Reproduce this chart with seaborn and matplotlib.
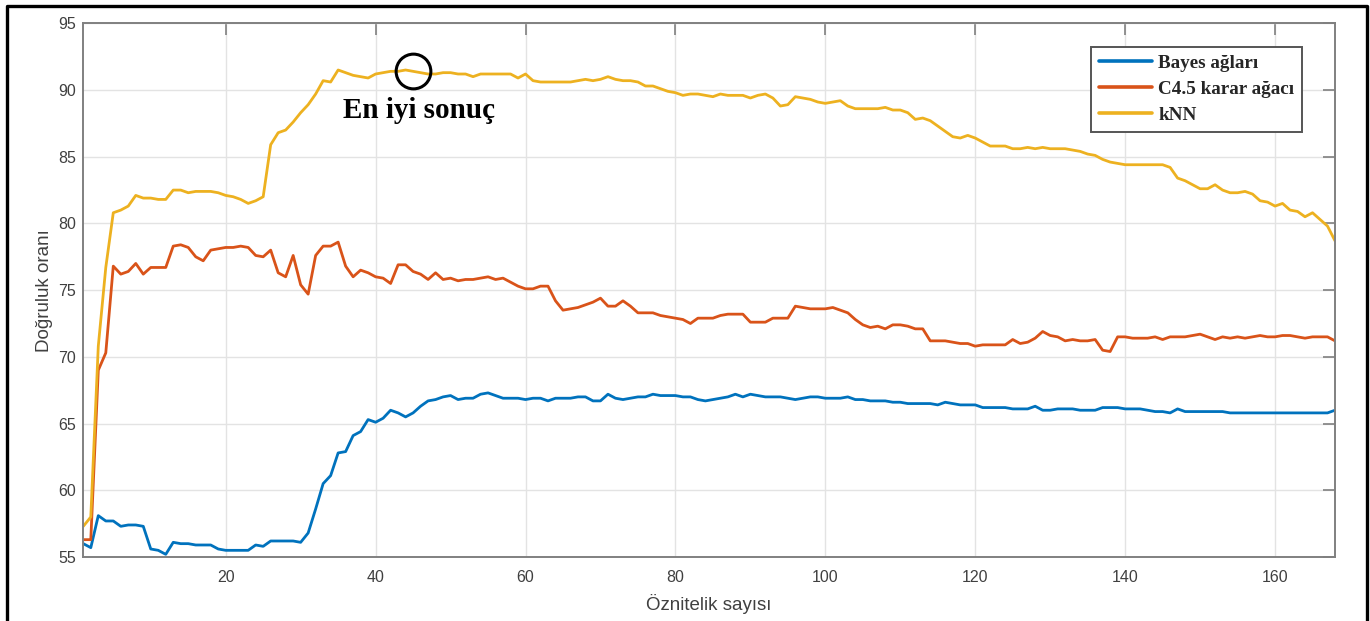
import matplotlib
matplotlib.use('Agg')
import matplotlib.pyplot as plt
from matplotlib.lines import Line2D
import seaborn as sns
import pandas as pd
import numpy as np

# accuracy (%) per number of features
n_features = list(range(1, 169))

bayes = [
    56.0, 55.7, 58.1, 57.7, 57.7, 57.3, 57.4, 57.4, 57.3, 55.6,
    55.5, 55.2, 56.1, 56.0, 56.0, 55.9, 55.9, 55.9, 55.6, 55.5,
    55.5, 55.5, 55.5, 55.9, 55.8, 56.2, 56.2, 56.2, 56.2, 56.1,
    56.8, 58.6, 60.5, 61.1, 62.8, 62.9, 64.1, 64.4, 65.3, 65.1,
    65.4, 66.0, 65.8, 65.5, 65.8, 66.3, 66.7, 66.8, 67.0, 67.1,
    66.8, 66.9, 66.9, 67.2, 67.3, 67.1, 66.9, 66.9, 66.9, 66.8,
    66.9, 66.9, 66.7, 66.9, 66.9, 66.9, 67.0, 67.0, 66.7, 66.7,
    67.2, 66.9, 66.8, 66.9, 67.0, 67.0, 67.2, 67.1, 67.1, 67.1,
    67.0, 67.0, 66.8, 66.7, 66.8, 66.9, 67.0, 67.2, 67.0, 67.2,
    67.1, 67.0, 67.0, 67.0, 66.9, 66.8, 66.9, 67.0, 67.0, 66.9,
    66.9, 66.9, 67.0, 66.8, 66.8, 66.7, 66.7, 66.7, 66.6, 66.6,
    66.5, 66.5, 66.5, 66.5, 66.4, 66.6, 66.5, 66.4, 66.4, 66.4,
    66.2, 66.2, 66.2, 66.2, 66.1, 66.1, 66.1, 66.3, 66.0, 66.0,
    66.1, 66.1, 66.1, 66.0, 66.0, 66.0, 66.2, 66.2, 66.2, 66.1,
    66.1, 66.1, 66.0, 65.9, 65.9, 65.8, 66.1, 65.9, 65.9, 65.9,
    65.9, 65.9, 65.9, 65.8, 65.8, 65.8, 65.8, 65.8, 65.8, 65.8,
    65.8, 65.8, 65.8, 65.8, 65.8, 65.8, 65.8, 66.0,
]

c45 = [
    56.3, 56.3, 69.0, 70.3, 76.8, 76.2, 76.4, 77.0, 76.2, 76.7,
    76.7, 76.7, 78.3, 78.4, 78.2, 77.5, 77.2, 78.0, 78.1, 78.2,
    78.2, 78.3, 78.2, 77.6, 77.5, 78.0, 76.3, 76.0, 77.6, 75.4,
    74.7, 77.6, 78.3, 78.3, 78.6, 76.8, 76.0, 76.5, 76.3, 76.0,
    75.9, 75.5, 76.9, 76.9, 76.4, 76.2, 75.8, 76.3, 75.8, 75.9,
    75.7, 75.8, 75.8, 75.9, 76.0, 75.8, 75.9, 75.6, 75.3, 75.1,
    75.1, 75.3, 75.3, 74.2, 73.5, 73.6, 73.7, 73.9, 74.1, 74.4,
    73.8, 73.8, 74.2, 73.8, 73.3, 73.3, 73.3, 73.1, 73.0, 72.9,
    72.8, 72.5, 72.9, 72.9, 72.9, 73.1, 73.2, 73.2, 73.2, 72.6,
    72.6, 72.6, 72.9, 72.9, 72.9, 73.8, 73.7, 73.6, 73.6, 73.6,
    73.7, 73.5, 73.3, 72.8, 72.4, 72.2, 72.3, 72.1, 72.4, 72.4,
    72.3, 72.1, 72.1, 71.2, 71.2, 71.2, 71.1, 71.0, 71.0, 70.8,
    70.9, 70.9, 70.9, 70.9, 71.3, 71.0, 71.1, 71.4, 71.9, 71.6,
    71.5, 71.2, 71.3, 71.2, 71.2, 71.3, 70.5, 70.4, 71.5, 71.5,
    71.4, 71.4, 71.4, 71.5, 71.3, 71.5, 71.5, 71.5, 71.6, 71.7,
    71.5, 71.3, 71.5, 71.4, 71.5, 71.4, 71.5, 71.6, 71.5, 71.5,
    71.6, 71.6, 71.5, 71.4, 71.5, 71.5, 71.5, 71.2,
]

knn = [
    57.3, 58.0, 70.8, 76.7, 80.8, 81.0, 81.3, 82.1, 81.9, 81.9,
    81.8, 81.8, 82.5, 82.5, 82.3, 82.4, 82.4, 82.4, 82.3, 82.1,
    82.0, 81.8, 81.5, 81.7, 82.0, 85.9, 86.8, 87.0, 87.6, 88.3,
    88.9, 89.7, 90.7, 90.6, 91.5, 91.3, 91.1, 91.0, 90.9, 91.2,
    91.3, 91.4, 91.4, 91.5, 91.4, 91.3, 91.2, 91.2, 91.3, 91.3,
    91.2, 91.2, 91.0, 91.2, 91.2, 91.2, 91.2, 91.2, 90.9, 91.2,
    90.7, 90.6, 90.6, 90.6, 90.6, 90.6, 90.7, 90.8, 90.7, 90.8,
    91.0, 90.8, 90.7, 90.7, 90.6, 90.3, 90.3, 90.1, 89.9, 89.8,
    89.6, 89.7, 89.7, 89.6, 89.5, 89.7, 89.6, 89.6, 89.6, 89.4,
    89.6, 89.7, 89.4, 88.8, 88.9, 89.5, 89.4, 89.3, 89.1, 89.0,
    89.1, 89.2, 88.8, 88.6, 88.6, 88.6, 88.6, 88.7, 88.5, 88.5,
    88.3, 87.8, 87.9, 87.7, 87.3, 86.9, 86.5, 86.4, 86.6, 86.4,
    86.1, 85.8, 85.8, 85.8, 85.6, 85.6, 85.7, 85.6, 85.7, 85.6,
    85.6, 85.6, 85.5, 85.4, 85.2, 85.1, 84.8, 84.6, 84.5, 84.4,
    84.4, 84.4, 84.4, 84.4, 84.4, 84.2, 83.4, 83.2, 82.9, 82.6,
    82.6, 82.9, 82.5, 82.3, 82.3, 82.4, 82.2, 81.7, 81.6, 81.3,
    81.5, 81.0, 80.9, 80.5, 80.8, 80.3, 79.8, 78.7,
]

labels = ['Bayes ağları', 'C4.5 karar ağacı', 'kNN']
best_n = 45  # marked "En iyi sonuç"

df = pd.concat([
    pd.DataFrame({'n': n_features, 'acc': vals, 'model': lab})
    for vals, lab in zip([bayes, c45, knn], labels)
])

sns.set_theme(style='white')
plt.rcParams['font.family'] = ['Liberation Sans', 'DejaVu Sans']

palette = dict(zip(labels, ['#0072BD', '#D95319', '#EDB120']))
axis_gray = '#808080'
text_gray = '#404040'

fig = plt.figure(figsize=(13.7, 6.21), dpi=100)
ax = fig.add_axes([83.3 / 1370, 1 - 557 / 621, (1335 - 83.3) / 1370, (557 - 23.3) / 621])

sns.lineplot(df, x='n', y='acc', hue='model', palette=palette, lw=2.0, ax=ax)

ax.set_xlim(1, 168)
ax.set_ylim(55, 95)
ax.set_xticks(np.arange(20, 161, 20))
ax.set_yticks(np.arange(55, 96, 5))
ax.grid(True, color='#e3e3e3', lw=1)
ax.set_axisbelow(True)
for sp in ax.spines.values():
    sp.set_color(axis_gray)
    sp.set_linewidth(1.4)
ax.tick_params(direction='in', length=8.6, width=1.2, color=axis_gray,
               labelcolor=text_gray, labelsize=11.5, top=True, right=True)
ax.tick_params(axis='x', pad=9)
ax.tick_params(axis='y', pad=5)
ax.set_xlabel('Öznitelik sayısı', fontsize=13.5, color=text_gray)
ax.set_ylabel('Doğruluk oranı', fontsize=13.5, color=text_gray)
ax.xaxis.set_label_coords(0.5, -0.069)
ax.yaxis.set_label_coords(-0.0245, 0.5)

handles, labs = ax.get_legend_handles_labels()
leg = ax.legend(handles, labs, loc='upper right', bbox_to_anchor=(0.9736, 0.9556),
                borderaxespad=0, handlelength=2.8, handletextpad=0.3,
                labelspacing=0.45, fancybox=False, framealpha=1, edgecolor='#555555',
                prop={'family': 'Liberation Serif', 'weight': 'bold', 'size': 13.8})
leg.get_frame().set_linewidth(1.4)
for h in leg.get_lines():
    h.set_linewidth(2.6)

# best result marker
bx, by = best_n, knn[best_n - 1]
ax.plot([bx], [by], marker='o', ms=25, mfc='none', mec='black', mew=2.2)
ax.annotate('En iyi sonuç', xy=(bx, by), xytext=(-70, -39), textcoords='offset pixels',
            ha='left', va='center', fontsize=21, fontweight='bold',
            family='Liberation Serif', color='black')

# black frame around the picture (bottom cut off)
fig.add_artist(Line2D([7 / 1370, 7 / 1370, 1367 / 1370, 1367 / 1370],
                      [0, 1 - 6 / 621, 1 - 6 / 621, 0],
                      transform=fig.transFigure, color='black', lw=2.4))

fig.savefig('out.png', dpi=100)
